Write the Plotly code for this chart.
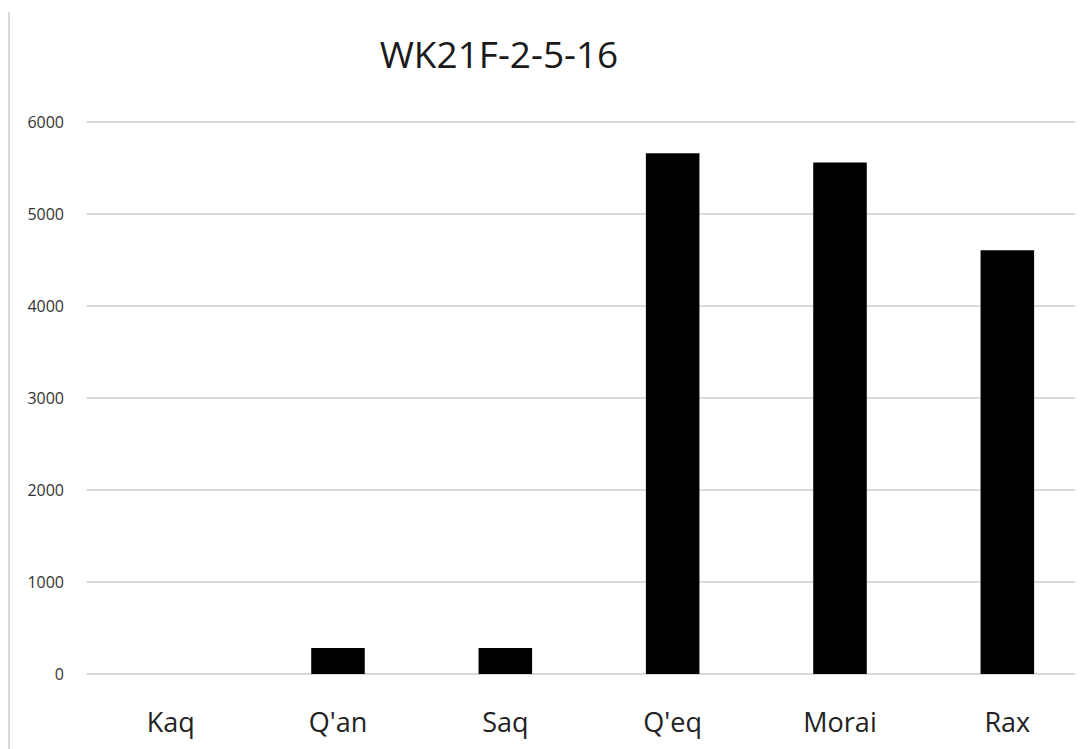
import plotly.graph_objects as go

categories = ["Kaq", "Q'an", "Saq", "Q'eq", "Morai", "Rax"]
values = [0, 283, 283, 5664, 5562, 4608]
y_ticks = [0, 1000, 2000, 3000, 4000, 5000, 6000]
title_text = "WK21F-2-5-16"

L, T, B = 79, 112, 83
PH = 749 - T - B
PW = 1083 - L

fig = go.Figure()
fig.add_trace(go.Bar(
    x=list(range(len(categories))), y=values,
    width=0.32,
    marker=dict(color="black", line=dict(width=0)),
))

fig.update_layout(
    width=1083, height=749,
    margin=dict(l=L, r=0, t=T, b=B, autoexpand=False),
    paper_bgcolor="white", plot_bgcolor="white",
    showlegend=False,
    title=dict(text=title_text, x=491/1083, xanchor="center", y=1-47/749, yanchor="middle",
               font=dict(family="Open Sans", size=37, color="#1a1a1a")),
    font=dict(family="Open Sans"),
)
fig.update_xaxes(
    range=[-0.5, 5.5], automargin=False,
    tickmode="array", tickvals=list(range(len(categories))), ticktext=categories,
    showgrid=False, showline=False, zeroline=False, ticks="",
    tickfont=dict(family="Open Sans", size=27, color="#222222"),
    ticklabelstandoff=30,
)
fig.update_yaxes(
    range=[0, 6025], automargin=False,
    tickmode="array", tickvals=y_ticks, ticktext=[str(t) for t in y_ticks],
    showgrid=True, gridcolor="#d9d9d9", gridwidth=1.5,
    zeroline=True, zerolinecolor="#d9d9d9", zerolinewidth=1.5,
    showline=False, ticks="",
    tickfont=dict(family="Open Sans", size=16, color="#333333"),
    ticklabelstandoff=22,
)
fig.add_shape(type="line", xref="paper", yref="paper",
              x0=(1-L)/PW, x1=(1-L)/PW, y0=-B/PH, y1=1+(T-4)/PH,
              line=dict(color="#d9d9d9", width=2))

fig.write_html("out.html")
